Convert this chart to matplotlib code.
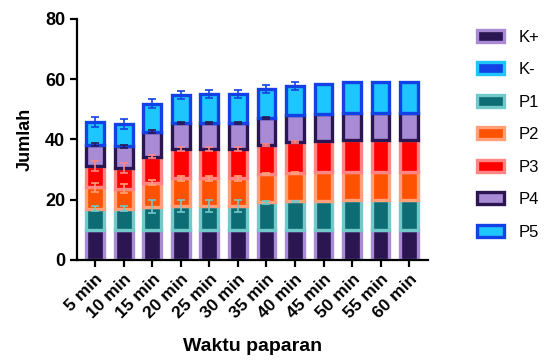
import numpy as np
import matplotlib.pyplot as plt
from matplotlib.patches import Patch

plt.rcParams['font.family'] = ['Liberation Sans', 'DejaVu Sans']

times = ['5 min', '10 min', '15 min', '20 min', '25 min', '30 min',
         '35 min', '40 min', '45 min', '50 min', '55 min', '60 min']
groups = ['K+', 'K-', 'P1', 'P2', 'P3', 'P4', 'P5']

k_plus = [10, 10, 10, 10, 10, 10, 10, 10, 10, 10, 10, 10]
k_minus = [0, 0, 0, 0, 0, 0, 0, 0, 0, 0, 0, 0]
p1 = [7.0, 7.0, 7.7, 8.0, 8.0, 8.0, 9.2, 9.4, 9.7, 9.8, 9.8, 9.8]
p2 = [7.1, 6.6, 7.9, 9.1, 9.1, 9.1, 9.4, 9.4, 9.4, 9.3, 9.3, 9.3]
p3 = [7.0, 7.0, 8.6, 9.7, 9.7, 9.7, 9.6, 10.4, 10.4, 10.7, 10.7, 10.7]
p4 = [7.1, 7.1, 8.4, 8.6, 8.6, 8.6, 9.0, 9.0, 9.0, 9.1, 9.1, 9.1]
p5 = [7.5, 7.5, 9.3, 9.2, 9.6, 9.6, 9.5, 9.5, 10.0, 10.0, 10.0, 10.0]

err_p1 = [0.8, 0.8, 2.2, 2.0, 2.0, 2.0, 0.5, 0.3, 0, 0, 0, 0]
err_p2 = [1.5, 1.5, 0.8, 0.8, 0.8, 0.8, 0.3, 0.3, 0, 0, 0, 0]
err_p3 = [1.6, 1.6, 0.5, 0.8, 0.8, 0.8, 0.3, 0.3, 0, 0, 0, 0]
err_p4 = [0.5, 0.5, 0.5, 0.4, 0.4, 0.4, 0.3, 0, 0, 0, 0, 0]
err_p5 = [1.7, 1.6, 1.5, 1.3, 1.4, 1.4, 1.3, 1.2, 0, 0, 0, 0]

values = [k_plus, k_minus, p1, p2, p3, p4, p5]
errors = [None, None, err_p1, err_p2, err_p3, err_p4, err_p5]
fills = ['#2b1652', '#1242e6', '#0e6c74', '#ff5200', '#ff0000', '#a98bd5', '#1ec6ff']
edges = ['#a98bd5', '#1ec6ff', '#72c9ca', '#ffa07a', '#ff8585', '#2b1652', '#1242e6']

fig = plt.figure(figsize=(5.47, 3.63), dpi=100)
ax = fig.add_axes([0.141, 0.284, 0.641, 0.664])

x = np.arange(len(times))
bottom = np.zeros(len(times))
for vals, err, fc, ec in zip(values, errors, fills, edges):
    vals = np.array(vals)
    if vals.sum() > 0:
        ax.bar(x, vals, bottom=bottom, width=0.62, color=fc, edgecolor=ec,
               linewidth=2.4, zorder=2)
    top = bottom + vals
    if err is not None:
        err = np.array(err)
        m = err > 0
        ax.errorbar(x[m], top[m], yerr=err[m], fmt='none', ecolor=ec,
                    elinewidth=1.2, capsize=3, capthick=1.2, zorder=3)
    bottom = top

ax.set_xlim(-0.63, 11.65)
ax.set_ylim(0, 80)
ax.set_yticks([0, 20, 40, 60, 80])
ax.set_xticks(x)
ax.set_xticklabels(times, rotation=45, ha='right', rotation_mode='anchor',
                   fontweight='bold', fontsize=12.5)
for lab in ax.get_yticklabels():
    lab.set_fontweight('bold')
    lab.set_fontsize(13)
ax.tick_params(width=1.6, length=5)
ax.spines['top'].set_visible(False)
ax.spines['right'].set_visible(False)
ax.spines['left'].set_linewidth(1.6)
ax.spines['bottom'].set_linewidth(1.6)
ax.set_ylabel('Jumlah', fontweight='bold', fontsize=13, labelpad=8)
ax.set_xlabel('Waktu paparan', fontweight='bold', fontsize=14, labelpad=12)

handles = [Patch(facecolor=fc, edgecolor=ec, linewidth=2.4, label=g)
           for g, fc, ec in zip(groups, fills, edges)]
fig.legend(handles=handles, loc='upper left', bbox_to_anchor=(0.845, 0.96),
           frameon=False, fontsize=12, labelspacing=1.05,
           handlelength=1.6, handleheight=0.7, handletextpad=0.9)

fig.savefig('out.png', dpi=100)
